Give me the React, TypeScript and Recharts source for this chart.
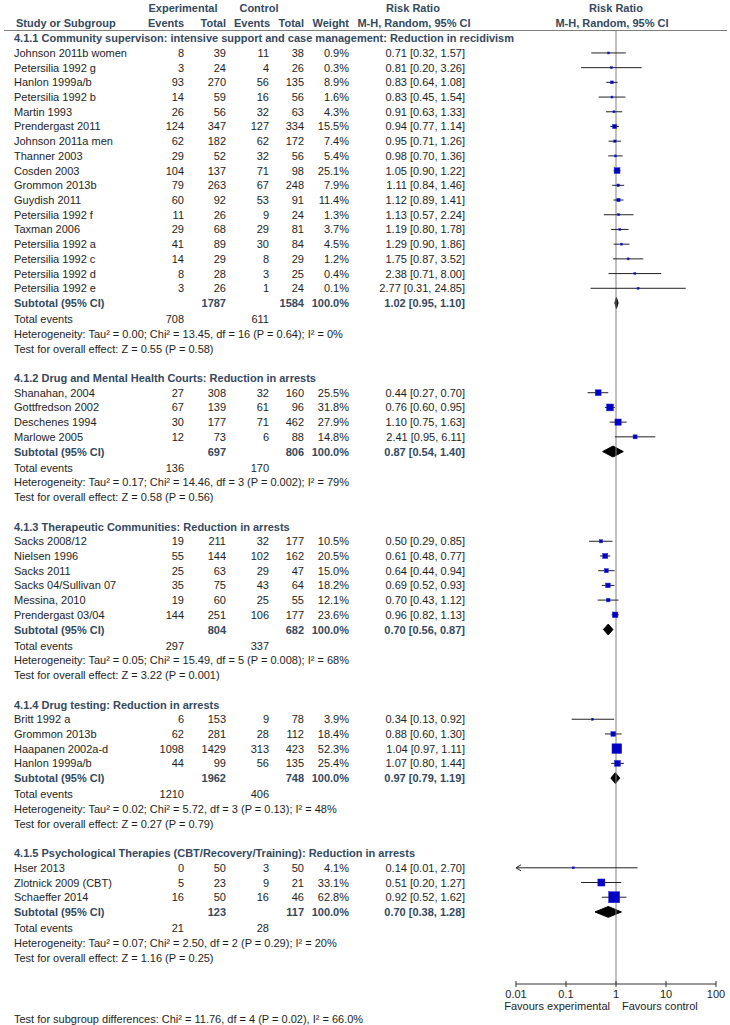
import React from 'react';
import { Area, ComposedChart, ErrorBar, ReferenceLine, Scatter, XAxis, YAxis } from 'recharts';

// name, exp events, exp total, ctrl events, ctrl total, weight %, risk ratio, lower, upper
type Study = [string, number, number, number, number, number, number, number, number];

const supervisionStudies: Study[] = [
  ['Johnson 2011b women', 8, 39, 11, 38, 0.9, 0.71, 0.32, 1.57],
  ['Petersilia 1992 g', 3, 24, 4, 26, 0.3, 0.81, 0.2, 3.26],
  ['Hanlon 1999a/b', 93, 270, 56, 135, 8.9, 0.83, 0.64, 1.08],
  ['Petersilia 1992 b', 14, 59, 16, 56, 1.6, 0.83, 0.45, 1.54],
  ['Martin 1993', 26, 56, 32, 63, 4.3, 0.91, 0.63, 1.33],
  ['Prendergast 2011', 124, 347, 127, 334, 15.5, 0.94, 0.77, 1.14],
  ['Johnson 2011a men', 62, 182, 62, 172, 7.4, 0.95, 0.71, 1.26],
  ['Thanner 2003', 29, 52, 32, 56, 5.4, 0.98, 0.7, 1.36],
  ['Cosden 2003', 104, 137, 71, 98, 25.1, 1.05, 0.9, 1.22],
  ['Grommon 2013b', 79, 263, 67, 248, 7.9, 1.11, 0.84, 1.46],
  ['Guydish 2011', 60, 92, 53, 91, 11.4, 1.12, 0.89, 1.41],
  ['Petersilia 1992 f', 11, 26, 9, 24, 1.3, 1.13, 0.57, 2.24],
  ['Taxman 2006', 29, 68, 29, 81, 3.7, 1.19, 0.8, 1.78],
  ['Petersilia 1992 a', 41, 89, 30, 84, 4.5, 1.29, 0.9, 1.86],
  ['Petersilia 1992 c', 14, 29, 8, 29, 1.2, 1.75, 0.87, 3.52],
  ['Petersilia 1992 d', 8, 28, 3, 25, 0.4, 2.38, 0.71, 8.0],
  ['Petersilia 1992 e', 3, 26, 1, 24, 0.1, 2.77, 0.31, 24.85],
];

const courtStudies: Study[] = [
  ['Shanahan, 2004', 27, 308, 32, 160, 25.5, 0.44, 0.27, 0.7],
  ['Gottfredson 2002', 67, 139, 61, 96, 31.8, 0.76, 0.6, 0.95],
  ['Deschenes 1994', 30, 177, 71, 462, 27.9, 1.1, 0.75, 1.63],
  ['Marlowe 2005', 12, 73, 6, 88, 14.8, 2.41, 0.95, 6.11],
];

const communityStudies: Study[] = [
  ['Sacks 2008/12', 19, 211, 32, 177, 10.5, 0.5, 0.29, 0.85],
  ['Nielsen 1996', 55, 144, 102, 162, 20.5, 0.61, 0.48, 0.77],
  ['Sacks 2011', 25, 63, 29, 47, 15.0, 0.64, 0.44, 0.94],
  ['Sacks 04/Sullivan 07', 35, 75, 43, 64, 18.2, 0.69, 0.52, 0.93],
  ['Messina, 2010', 19, 60, 25, 55, 12.1, 0.7, 0.43, 1.12],
  ['Prendergast 03/04', 144, 251, 106, 177, 23.6, 0.96, 0.82, 1.13],
];

const testingStudies: Study[] = [
  ['Britt 1992 a', 6, 153, 9, 78, 3.9, 0.34, 0.13, 0.92],
  ['Grommon 2013b', 62, 281, 28, 112, 18.4, 0.88, 0.6, 1.3],
  ['Haapanen 2002a-d', 1098, 1429, 313, 423, 52.3, 1.04, 0.97, 1.11],
  ['Hanlon 1999a/b', 44, 99, 56, 135, 25.4, 1.07, 0.8, 1.44],
];

const therapyStudies: Study[] = [
  ['Hser 2013', 0, 50, 3, 50, 4.1, 0.14, 0.01, 2.7],
  ['Zlotnick 2009 (CBT)', 5, 23, 9, 21, 33.1, 0.51, 0.2, 1.27],
  ['Schaeffer 2014', 16, 50, 16, 46, 62.8, 0.92, 0.52, 1.62],
];

const groupTitles = [
  '4.1.1 Community supervison: intensive support and case management: Reduction in recidivism',
  '4.1.2 Drug and Mental Health Courts: Reduction in arrests',
  '4.1.3 Therapeutic Communities: Reduction in arrests',
  '4.1.4 Drug testing: Reduction in arrests',
  '4.1.5 Psychological Therapies (CBT/Recovery/Training): Reduction in arrests',
];

const subtotalN = [[1787, 1584], [697, 806], [804, 682], [1962, 748], [123, 117]];
const subtotalRR = [[1.02, 0.95, 1.1], [0.87, 0.54, 1.4], [0.7, 0.56, 0.87], [0.97, 0.79, 1.19], [0.7, 0.38, 1.28]];
const totalEvents = [[708, 611], [136, 170], [297, 337], [1210, 406], [21, 28]];

const heterogeneity = [
  'Heterogeneity: Tau² = 0.00; Chi² = 13.45, df = 16 (P = 0.64); I² = 0%',
  'Heterogeneity: Tau² = 0.17; Chi² = 14.46, df = 3 (P = 0.002); I² = 79%',
  'Heterogeneity: Tau² = 0.05; Chi² = 15.49, df = 5 (P = 0.008); I² = 68%',
  'Heterogeneity: Tau² = 0.02; Chi² = 5.72, df = 3 (P = 0.13); I² = 48%',
  'Heterogeneity: Tau² = 0.07; Chi² = 2.50, df = 2 (P = 0.29); I² = 20%',
];

const overallEffect = [
  'Test for overall effect: Z = 0.55 (P = 0.58)',
  'Test for overall effect: Z = 0.58 (P = 0.56)',
  'Test for overall effect: Z = 3.22 (P = 0.001)',
  'Test for overall effect: Z = 0.27 (P = 0.79)',
  'Test for overall effect: Z = 1.16 (P = 0.25)',
];

const subgroupTest = 'Test for subgroup differences: Chi² = 11.76, df = 4 (P = 0.02), I² = 66.0%';
const axisTicks = [0.01, 0.1, 1, 10, 100];

const FONT = '"Liberation Sans", Arial, sans-serif';
const HEAD = '#34495e';
const INK = '#1e1e1e';

const ci = (rr: number, lo: number, hi: number) => `${rr.toFixed(2)} [${lo.toFixed(2)}, ${hi.toFixed(2)}]`;

// build the rows (y = row slot) from the groups
const studyGroups = [supervisionStudies, courtStudies, communityStudies, testingStudies, therapyStudies];
const textRows: any[] = [];
const studyPoints: any[] = [];
const diamonds: any[][] = [];
let slot = -1;
studyGroups.forEach((studies, g) => {
  textRows.push({ x: 1, y: slot, kind: 'title', label: groupTitles[g] });
  studies.forEach((s, i) => {
    const y = slot + 1 + i;
    textRows.push({
      x: 1, y, kind: 'study', label: s[0],
      cols: [s[1], s[2], s[3], s[4], `${s[5].toFixed(1)}%`, ci(s[6], s[7], s[8])],
    });
    studyPoints.push({ x: s[6], y, w: s[5], lo: s[7], err: [s[6] - s[7], s[8] - s[6]] });
  });
  const sub = slot + studies.length + 1;
  const [rr, lo, hi] = subtotalRR[g];
  textRows.push({
    x: 1, y: sub, kind: 'subtotal', label: 'Subtotal (95% CI)',
    cols: ['', subtotalN[g][0], '', subtotalN[g][1], '100.0%', ci(rr, lo, hi)],
  });
  diamonds.push([
    { x: lo, band: [sub, sub] },
    { x: rr, band: [sub - 0.37, sub + 0.37] },
    { x: hi, band: [sub, sub] },
  ]);
  textRows.push({ x: 1, y: sub + 1.1, kind: 'events', label: 'Total events', cols: [totalEvents[g][0], '', totalEvents[g][1]] });
  textRows.push({ x: 1, y: sub + 2.1, kind: 'note', label: heterogeneity[g] });
  textRows.push({ x: 1, y: sub + 3.1, kind: 'note', label: overallEffect[g] });
  slot = sub + 5.1;
});
const arrowPoints = studyPoints.filter((p) => p.lo <= 0.01).map((p) => ({ x: 0.01, y: p.y }));

const colRight = [184, 226, 269, 304, 349, 465];

const TextRow = (props: any) => {
  const { cy, payload: r } = props;
  const bold = r.kind === 'title' || r.kind === 'subtotal';
  const fill = bold ? HEAD : INK;
  return (
    <g fontFamily={FONT} fontSize={11} fill={fill} fontWeight={bold ? 'bold' : 'normal'}>
      <text x={14} y={cy} dominantBaseline="central">{r.label}</text>
      {(r.cols || []).map((c: any, i: number) => (
        <text key={i} x={colRight[i]} y={cy} textAnchor="end" dominantBaseline="central">{c}</text>
      ))}
    </g>
  );
};

const Square = (props: any) => {
  const { cx, cy, payload } = props;
  const s = Math.max(2, 0.61 * Math.pow(payload.w, 0.7));
  return <rect x={cx - s / 2} y={cy - s / 2} width={s} height={s} fill="#0000c4" stroke="#2a2ad8" strokeWidth={0.5} />;
};

const Arrow = (props: any) => {
  const { cx, cy } = props;
  return <polyline points={`${cx + 5},${cy - 3} ${cx},${cy} ${cx + 5},${cy + 3}`} fill="none" stroke="#222" />;
};

const AxisTick = (props: any) => {
  const { x, y, payload } = props;
  return (
    <g>
      <line x1={x} x2={x} y1={y - 8} y2={y - 2} stroke="#333" />
      <text x={x} y={y + 5} textAnchor="middle" dominantBaseline="central" fontSize={11} fontFamily={FONT} fill={INK}>
        {String(payload.value)}
      </text>
    </g>
  );
};

const Blank = () => <g />;

function Labels() {
  const t = { fontFamily: FONT, fontSize: 11 };
  return (
    <svg width={730} height={1025} style={{ position: 'absolute', left: 0, top: 0, pointerEvents: 'none' }}>
      <g {...t} fill={HEAD} fontWeight="bold">
        <text x={183} y={8} textAnchor="middle" dominantBaseline="central">Experimental</text>
        <text x={259} y={8} textAnchor="middle" dominantBaseline="central">Control</text>
        <text x={413} y={8} textAnchor="middle" dominantBaseline="central">Risk Ratio</text>
        <text x={616} y={8} textAnchor="middle" dominantBaseline="central">Risk Ratio</text>
        <text x={16} y={23} dominantBaseline="central">Study or Subgroup</text>
        <text x={184} y={23} textAnchor="end" dominantBaseline="central">Events</text>
        <text x={226} y={23} textAnchor="end" dominantBaseline="central">Total</text>
        <text x={270} y={23} textAnchor="end" dominantBaseline="central">Events</text>
        <text x={304} y={23} textAnchor="end" dominantBaseline="central">Total</text>
        <text x={349} y={23} textAnchor="end" dominantBaseline="central">Weight</text>
        <text x={414} y={23} textAnchor="middle" dominantBaseline="central">M-H, Random, 95% CI</text>
        <text x={612} y={23} textAnchor="middle" dominantBaseline="central">M-H, Random, 95% CI</text>
      </g>
      <line x1={4} y1={30.5} x2={727} y2={30.5} stroke="#808080" />
      <g {...t} fill={INK}>
        <text x={610} y={1006} textAnchor="end" dominantBaseline="central">Favours experimental</text>
        <text x={622} y={1006} dominantBaseline="central">Favours control</text>
        <text x={14} y={1019} dominantBaseline="central">{subgroupTest}</text>
      </g>
    </svg>
  );
}

export default function App() {
  return (
    <div style={{ position: 'absolute', left: 0, top: 0, width: 730, height: 1025, background: '#fff' }}>
      <ComposedChart width={730} height={1025} margin={{ top: 30, right: 14, bottom: 21, left: 516 }}>
        <XAxis
          dataKey="x"
          type="number"
          scale="log"
          domain={[0.01, 100]}
          ticks={axisTicks}
          height={20}
          tickLine={false}
          tickSize={5}
          tickMargin={0}
          stroke="#333"
          tick={AxisTick}
        />
        <YAxis dataKey="y" type="number" domain={[-1.56, 63.3]} reversed hide width={0} />
        <ReferenceLine x={1} stroke="#808080" strokeWidth={1} />
        <Scatter data={textRows} shape={TextRow} isAnimationActive={false} />
        <Scatter data={studyPoints} shape={Blank} isAnimationActive={false}>
          <ErrorBar dataKey="err" direction="x" width={0} stroke="#222" strokeWidth={1} isAnimationActive={false} />
        </Scatter>
        <Scatter data={studyPoints} shape={Square} isAnimationActive={false} />
        <Scatter data={arrowPoints} shape={Arrow} isAnimationActive={false} />
        {diamonds.map((d, i) => (
          <Area
            key={i}
            data={d}
            dataKey="band"
            type="linear"
            fill="#000"
            fillOpacity={1}
            stroke="#000"
            dot={false}
            activeDot={false}
            isAnimationActive={false}
          />
        ))}
      </ComposedChart>
      <Labels />
    </div>
  );
}
